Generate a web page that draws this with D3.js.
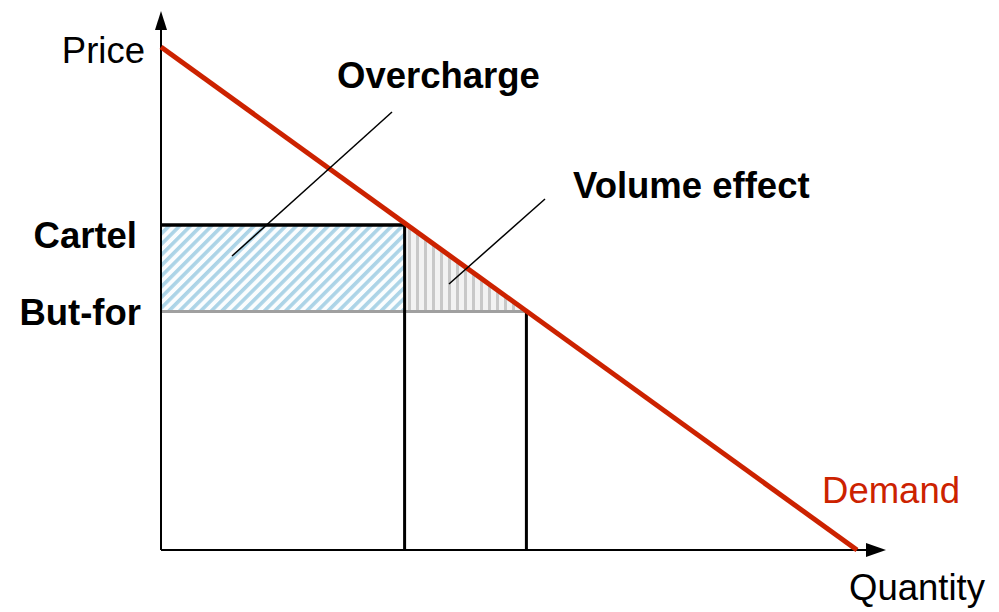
<!DOCTYPE html>
<html>
<head>
<meta charset="utf-8">
<script src="https://cdn.jsdelivr.net/npm/d3@7"></script>
<style>
  body { margin: 0; background: #fff; }
  svg text { font-family: "Liberation Sans", Arial, sans-serif; }
</style>
</head>
<body>
<div id="chart"></div>
<script>
// demand curve end points (quantity, price), on a 0-100 scale
var demandQ = [0, 100];
var demandP = [100, 0];
// market outcomes
var outcomeNames = ["Cartel", "But-for"];
var outcomeQ = [35, 52.5];
var outcomeP = [64.6, 47.4];

var width = 999, height = 612;

var svg = d3.select("#chart").append("svg")
    .attr("width", width)
    .attr("height", height);

var x = d3.scaleLinear().domain([0, 100]).range([161, 857]);
var y = d3.scaleLinear().domain([0, 100]).range([550, 47]);

var defs = svg.append("defs");

// diagonal blue hatch for overcharge
var hatch = defs.append("pattern")
    .attr("id", "hatchBlue")
    .attr("patternUnits", "userSpaceOnUse")
    .attr("width", 7.5)
    .attr("height", 7.5)
    .attr("patternTransform", "rotate(45)");
hatch.append("rect").attr("width", 7.5).attr("height", 7.5).attr("fill", "#fbfdfe");
hatch.append("rect").attr("width", 3.6).attr("height", 7.5).attr("fill", "#acd4e7");

// vertical grey stripes for volume effect
var stripes = defs.append("pattern")
    .attr("id", "stripeGrey")
    .attr("patternUnits", "userSpaceOnUse")
    .attr("width", 8)
    .attr("height", 8);
stripes.append("rect").attr("width", 8).attr("height", 8).attr("fill", "#f2f2f2");
stripes.append("rect").attr("width", 3).attr("height", 8).attr("fill", "#c8c8c8");

// overcharge area
svg.append("rect")
    .attr("x", x(0))
    .attr("y", y(outcomeP[0]))
    .attr("width", x(outcomeQ[0]) - x(0))
    .attr("height", y(outcomeP[1]) - y(outcomeP[0]))
    .attr("fill", "url(#hatchBlue)");

// volume effect triangle
svg.append("path")
    .attr("d", d3.line()([
      [x(outcomeQ[0]), y(outcomeP[0])],
      [x(outcomeQ[1]), y(outcomeP[1])],
      [x(outcomeQ[0]), y(outcomeP[1])]
    ]) + "Z")
    .attr("fill", "url(#stripeGrey)");

// but-for price line (grey)
svg.append("line")
    .attr("x1", x(0)).attr("x2", x(outcomeQ[1]))
    .attr("y1", y(outcomeP[1])).attr("y2", y(outcomeP[1]))
    .attr("stroke", "#a0a0a0")
    .attr("stroke-width", 3);

// cartel price line
svg.append("line")
    .attr("x1", x(0)).attr("x2", x(outcomeQ[0]))
    .attr("y1", y(outcomeP[0])).attr("y2", y(outcomeP[0]))
    .attr("stroke", "#000")
    .attr("stroke-width", 3.5);

// quantity drop lines
outcomeQ.forEach(function(q, i) {
  svg.append("line")
      .attr("x1", x(q)).attr("x2", x(q))
      .attr("y1", y(outcomeP[i]) - 1.5).attr("y2", y(0))
      .attr("stroke", "#000")
      .attr("stroke-width", 3);
});

// axes with arrows
svg.append("line")
    .attr("x1", x(0)).attr("x2", x(0))
    .attr("y1", y(0)).attr("y2", 26)
    .attr("stroke", "#000").attr("stroke-width", 2);
svg.append("path")
    .attr("d", "M" + (x(0) - 6) + ",30L" + x(0) + ",11L" + (x(0) + 6) + ",30Z")
    .attr("fill", "#000");

svg.append("line")
    .attr("x1", x(0)).attr("x2", 870)
    .attr("y1", y(0)).attr("y2", y(0))
    .attr("stroke", "#000").attr("stroke-width", 2);
svg.append("path")
    .attr("d", "M866," + (y(0) - 7) + "L886," + y(0) + "L866," + (y(0) + 7) + "Z")
    .attr("fill", "#000");

// demand curve
svg.append("line")
    .attr("x1", x(demandQ[0])).attr("y1", y(demandP[0]))
    .attr("x2", x(demandQ[1])).attr("y2", y(demandP[1]))
    .attr("stroke", "#cc2200")
    .attr("stroke-width", 5);

// annotation pointers
svg.append("line")
    .attr("x1", 392).attr("y1", 112).attr("x2", 232).attr("y2", 256)
    .attr("stroke", "#000").attr("stroke-width", 1.5);
svg.append("line")
    .attr("x1", 545).attr("y1", 199).attr("x2", 449).attr("y2", 284)
    .attr("stroke", "#000").attr("stroke-width", 1.5);

// texts
function label(txt, px, py, anchor, bold, color) {
  svg.append("text")
      .attr("x", px).attr("y", py)
      .attr("text-anchor", anchor)
      .attr("font-size", 36.5)
      .attr("font-weight", bold ? "bold" : "normal")
      .attr("fill", color || "#000")
      .text(txt);
}

label("Price", 145, 63, "end", false);
label("Quantity", 985, 600, "end", false);
label("Demand", 960, 503, "end", false, "#cc2200");
label("Overcharge", 337, 88, "start", true);
label("Volume effect", 573, 198, "start", true);
label(outcomeNames[0], 137, 248, "end", true);
label(outcomeNames[1], 141, 325, "end", true);
</script>
</body>
</html>
